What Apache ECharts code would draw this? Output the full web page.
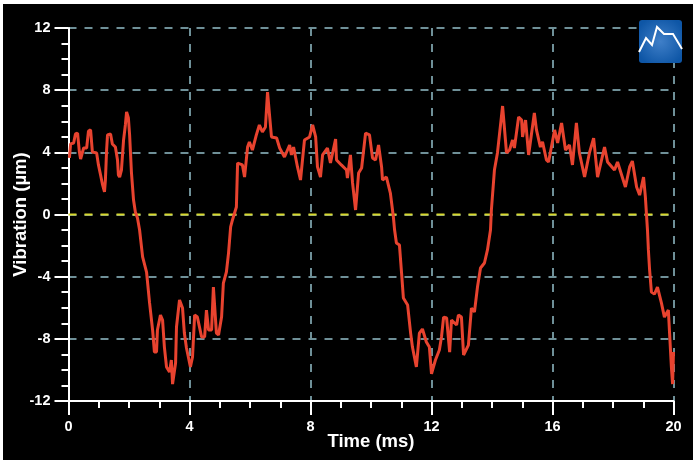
<!DOCTYPE html>
<html><head><meta charset="utf-8">
<style>html,body{margin:0;padding:0;background:#fff}#c{width:693px;height:460px}</style>
<script src="https://cdn.jsdelivr.net/npm/echarts@6/dist/echarts.min.js"></script>
</head><body><div id="c"></div>
<script>
const timeMs = [0.03,0.07,0.17,0.23,0.30,0.36,0.40,0.50,0.60,0.66,0.73,0.79,0.93,0.99,1.06,1.12,1.19,1.22,1.26,1.29,1.39,1.45,1.55,1.62,1.65,1.69,1.75,1.82,1.88,1.92,1.98,2.02,2.08,2.15,2.21,2.28,2.35,2.45,2.58,2.68,2.78,2.84,2.91,2.94,3.04,3.11,3.17,3.24,3.34,3.40,3.44,3.54,3.57,3.67,3.77,3.83,3.90,4.03,4.10,4.17,4.26,4.40,4.50,4.56,4.63,4.73,4.79,4.89,4.96,5.06,5.12,5.22,5.29,5.36,5.42,5.55,5.59,5.65,5.75,5.82,5.92,5.98,6.08,6.21,6.31,6.41,6.51,6.58,6.64,6.71,6.88,6.98,7.14,7.31,7.37,7.44,7.57,7.67,7.80,7.97,8.07,8.17,8.23,8.33,8.40,8.56,8.66,8.83,8.86,9.02,9.19,9.22,9.32,9.39,9.49,9.59,9.69,9.82,9.95,10.05,10.15,10.25,10.35,10.38,10.51,10.64,10.74,10.78,10.84,10.94,11.01,11.07,11.21,11.31,11.37,11.50,11.60,11.70,11.83,11.93,12.00,12.13,12.26,12.33,12.40,12.50,12.60,12.66,12.83,12.89,12.99,13.06,13.22,13.32,13.42,13.52,13.62,13.75,13.85,13.95,13.98,14.08,14.18,14.31,14.35,14.41,14.48,14.58,14.68,14.74,14.88,14.98,15.01,15.11,15.21,15.40,15.47,15.60,15.67,15.80,15.87,16.07,16.17,16.30,16.43,16.56,16.66,16.79,16.89,17.06,17.22,17.36,17.49,17.72,17.82,18.05,18.15,18.41,18.55,18.64,18.78,18.88,19.01,19.07,19.14,19.17,19.21,19.27,19.37,19.47,19.60,19.70,19.83,19.87,19.93,19.97,20.00];
const vibration = [3.64,4.54,4.60,5.18,5.24,4.02,3.57,4.28,4.28,5.37,5.44,4.02,3.96,3.19,2.54,1.96,1.45,2.22,4.15,5.12,5.18,4.54,4.34,3.51,2.54,2.41,2.86,4.79,5.76,6.60,6.21,5.12,2.73,0.93,0.16,-0.23,-1.00,-2.73,-3.70,-5.69,-7.43,-8.85,-8.85,-7.43,-6.47,-6.79,-8.53,-9.81,-10.14,-9.36,-10.91,-9.56,-7.24,-5.50,-6.02,-7.63,-8.59,-9.81,-9.17,-6.47,-6.60,-7.88,-7.88,-6.15,-7.43,-7.43,-4.67,-7.63,-7.75,-6.60,-4.41,-3.70,-2.48,-0.80,-0.35,0.48,3.31,3.38,3.19,2.41,4.34,4.67,4.15,5.12,5.76,5.31,5.63,7.88,6.53,4.99,4.92,4.28,3.70,4.47,3.83,4.34,3.06,2.22,4.79,4.99,5.76,4.99,3.06,2.41,3.83,4.28,3.31,4.86,3.51,3.19,2.86,2.35,3.83,2.03,0.29,2.67,2.99,5.24,5.12,3.64,3.51,4.47,3.06,2.22,2.41,1.38,-0.16,-1.00,-1.83,-1.96,-3.76,-5.37,-5.82,-7.63,-8.53,-9.81,-7.63,-7.37,-8.20,-8.53,-10.26,-9.36,-8.72,-7.88,-6.60,-6.66,-8.85,-6.79,-7.11,-6.47,-6.60,-9.04,-8.40,-6.02,-6.27,-4.67,-3.44,-3.12,-2.28,-1.00,0.29,2.86,3.96,6.27,6.98,6.98,3.96,4.15,4.79,4.28,6.27,6.08,4.99,6.08,3.83,6.53,5.44,4.34,4.67,3.51,3.38,5.44,4.60,5.89,4.15,4.47,3.19,5.89,3.96,2.41,3.96,4.92,2.41,4.34,3.38,2.86,3.38,1.77,3.06,3.44,1.77,1.25,2.41,1.13,-1.00,-2.28,-3.57,-4.99,-5.12,-4.67,-5.69,-6.60,-6.15,-7.63,-9.81,-10.91,-8.85];
const zeroLineX = [0, 20];
const zeroLineY = [0, 0];
const xTitle = 'Time (ms)';
const yTitle = 'Vibration (µm)';
const font = '"Liberation Sans", Arial, sans-serif';
const gridStyle = {color:'#6f9098', width:2, type:[8,8]};
const chart = echarts.init(document.getElementById('c'), null, {renderer:'canvas'});
const axisCommon = {
  axisLine:{show:true, onZero:false, lineStyle:{color:'#fff', width:2}},
  axisTick:{show:true, length:14, lineStyle:{color:'#fff', width:2}},
  minorTick:{show:true, splitNumber:4, length:7, lineStyle:{color:'#fff', width:2}},
  splitLine:{show:true, lineStyle:gridStyle},
  axisLabel:{color:'#fff', fontFamily:font, fontWeight:'bold', fontSize:14.5, showMinLabel:true, showMaxLabel:true},
  nameLocation:'middle',
  nameMoveOverlap:false,
  nameTextStyle:{color:'#fff', fontFamily:font, fontWeight:'bold', fontSize:18.5}
};
chart.setOption({
  backgroundColor:'#fff',
  animation:false,
  grid:{left:68.5, right:19.5, top:28, bottom:59, outerBoundsMode:'none', containLabel:false},
  xAxis:Object.assign({}, axisCommon, {type:'value', min:0, max:20, interval:4, name:xTitle, nameGap:31,
    axisLabel:Object.assign({}, axisCommon.axisLabel, {margin:18})}),
  yAxis:Object.assign({}, axisCommon, {type:'value', min:-12, max:12, interval:4, name:yTitle, nameGap:38,
    axisLabel:Object.assign({}, axisCommon.axisLabel, {margin:18, padding:[2,0,0,0]})}),
  graphic:[
    {type:'rect', z:-10, silent:true, shape:{x:3,y:4,width:690,height:456}, style:{fill:'#000'}},
    {type:'rect', z:50, silent:true, shape:{x:639,y:20,width:43,height:43,r:3},
      style:{fill:new echarts.graphic.RadialGradient(0.5,0.5,0.6,[{offset:0,color:'#3f7fc8'},{offset:1,color:'#0e56a6'}])}},
    {type:'polyline', z:51, silent:true, shape:{points:[[639,52],[646,38],[652,45],[657,27],[664,34],[673,34],[682,49]]},
      style:{stroke:'#fff', lineWidth:2, fill:null}}
  ],
  series:[
    {type:'line', silent:true, symbol:'none', z:3, data:zeroLineX.map((x,i)=>[x,zeroLineY[i]]),
      lineStyle:{color:'#d8d82c', width:2, type:[8,8]}},
    {type:'line', silent:true, symbol:'none', z:4, smooth:false, data:timeMs.map((t,i)=>[t,vibration[i]]),
      lineStyle:{color:'#e8432f', width:3}}
  ]
});
</script></body></html>
